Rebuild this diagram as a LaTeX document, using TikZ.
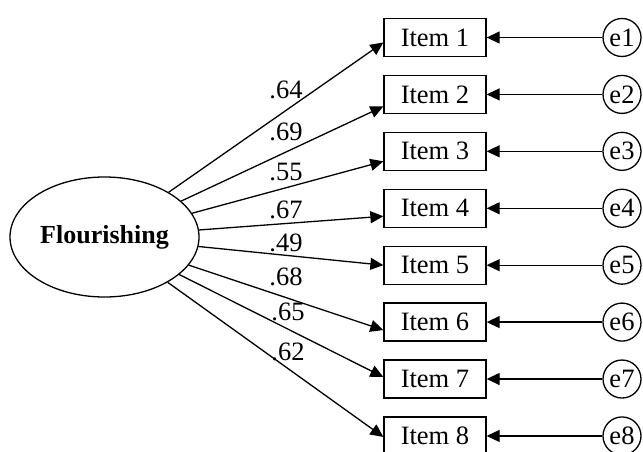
\documentclass[tikz,border=0pt]{standalone}
\usepackage{fontspec}
\setmainfont{Liberation Serif}
\usetikzlibrary{arrows.meta,shapes.geometric}
\begin{document}
\begin{tikzpicture}[x=1pt,y=-1pt,
  every node/.style={font=\fontsize{26.5}{30}\selectfont},
  lat/.style={draw, ellipse, line width=1.3pt, minimum width=189pt, minimum height=120pt, inner sep=0pt, fill=white, font=\fontsize{26}{30}\selectfont\bfseries},
  itembox/.style={draw, rectangle, line width=1.3pt, minimum width=102pt, minimum height=38pt, inner sep=0pt},
  errc/.style={draw, circle, line width=1.3pt, minimum size=38pt, inner sep=0pt},
  load/.style={line width=1.3pt, -{Triangle[length=13pt,width=12pt]}},
  lab/.style={inner sep=0pt}
]
\useasboundingbox (0,0) rectangle (643,452);

\node[lat] (F) at (104.5,237) {Flourishing};

\foreach \i/\y in {1/37.5, 2/94.42, 3/151.34, 4/208.26, 5/265.18, 6/322.1, 7/379.02, 8/435.94}{
  \node[itembox] (I\i) at (435,\y) {Item \i};
  \node[errc] (e\i) at (622,\y) {e\i};
  \draw[load] (e\i) -- (I\i);
}

\draw[load] (F) -- ([yshift=-5pt]I1.west);
\draw[load] (F) -- ([yshift=-12pt]I2.west);
\draw[load] (F) -- ([yshift=-10pt]I3.west);
\draw[load] (F) -- ([yshift=-8pt]I4.west);
\draw[load] (F) -- (I5.west);
\draw[load] (F) -- ([yshift=-8pt]I6.west);
\draw[load] (F) -- ([yshift=2pt]I7.west);
\draw[load] (F) -- ([yshift=-1pt]I8.west);

\node[lab] (l1) at (286,90) {.64};
\node[lab] (l2) at (286,132) {.69};
\node[lab] (l3) at (286,172) {.55};
\node[lab] (l4) at (286,210) {.67};
\node[lab] (l5) at (286,243) {.49};
\node[lab] (l6) at (286,277) {.68};
\node[lab] (l7) at (288,312) {.65};
\node[lab] (l8) at (288,352) {.62};
\end{tikzpicture}
\end{document}
